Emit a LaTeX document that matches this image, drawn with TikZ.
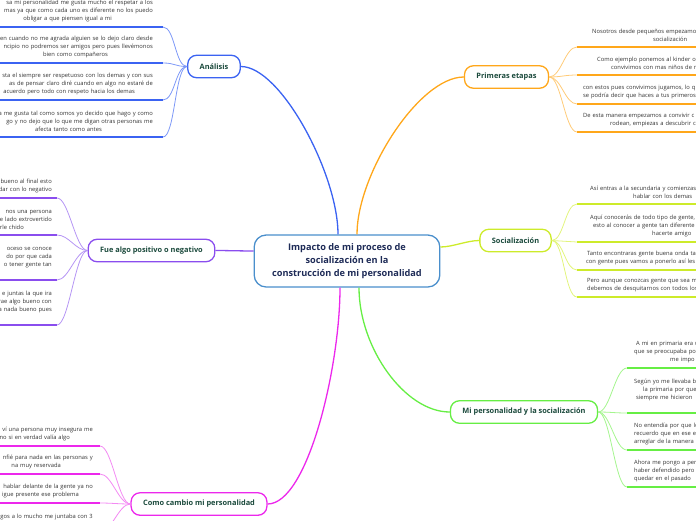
\documentclass[tikz,border=0pt]{standalone}
\usepackage{fontspec}
\setmainfont{Open Sans}
\usetikzlibrary{arrows.meta, positioning, shapes.misc, calc}
\definecolor{mapCenter}{HTML}{4A8FCC}
\definecolor{mapNavy}{HTML}{1E2B57}
\definecolor{mapText}{HTML}{1B4A3C}
\definecolor{noteText}{HTML}{333333}
\definecolor{mapBlue}{HTML}{3B63F2}
\definecolor{mapBlueL}{HTML}{7D98F7}
\definecolor{mapOrange}{HTML}{FFA71A}
\definecolor{mapOrangeL}{HTML}{FFCB78}
\definecolor{mapLime}{HTML}{CDEB2A}
\definecolor{mapLimeL}{HTML}{E2F47C}
\definecolor{mapGreen}{HTML}{66EE44}
\definecolor{mapGreenL}{HTML}{A4F58E}
\definecolor{mapPurple}{HTML}{8A4DEE}
\definecolor{mapPurpleL}{HTML}{B595F4}
\definecolor{mapPink}{HTML}{EC28EC}
\definecolor{mapPinkL}{HTML}{F38AF3}
\tikzset{
  centralBox/.style={rectangle, rounded corners=12pt, draw=mapCenter, line width=1.3pt,
                     fill=white, text=mapNavy, align=center,
                     font=\fontsize{9.2}{13}\selectfont\bfseries, inner xsep=18pt, minimum height=52pt},
  topicBox/.style={rectangle, rounded corners=9pt, draw=#1, line width=1.3pt, fill=white,
                   text=mapText, font=\fontsize{7.4}{9}\selectfont\bfseries,
                   inner xsep=12pt, minimum height=22.5pt},
  noteL/.style={anchor=south east, align=right, text width=260pt, text=noteText,
                font=\fontsize{5.8}{8.2}\selectfont, inner ysep=5pt},
  noteR/.style={anchor=south west, align=left, text width=260pt, text=noteText,
                font=\fontsize{5.8}{8.2}\selectfont, inner ysep=5pt},
  mainLink/.style={draw=#1, line width=1.3pt},
  subLink/.style={draw=#1, line width=0.8pt},
  underBar/.style={draw=#1, line width=2pt},
}

\begin{document}
\begin{tikzpicture}[x=1pt, y=-1pt]
  \useasboundingbox (0,0) rectangle (696,520);

  % centre and topics
  \node[centralBox] (cen) at (347,261) {Impacto de mi proceso de\\socialización en la\\construcción de mi personalidad};
  \node[topicBox=mapBlue] (ana) at (214,66.5) {Análisis};
  \node[topicBox=mapOrange] (pri) at (506.5,77) {Primeras etapas};
  \node[topicBox=mapLime] (soc) at (515.5,240.5) {Socialización};
  \node[topicBox=mapGreen] (mip) at (524,412) {Mi personalidad y la socialización};
  \node[topicBox=mapPurple] (fue) at (151.5,250.5) {Fue algo positivo o negativo};
  \node[topicBox=mapPink] (com) at (199,504) {Como cambio mi personalidad};

  \draw[mainLink=mapBlue] ([xshift=-9pt]cen.north) .. controls +(0,-60) and +(40,0) .. (ana.east);
  \draw[mainLink=mapOrange] ([xshift=10pt]cen.north) .. controls +(0,-60) and +(-45,0) .. (pri.west);
  \draw[mainLink=mapLime] ([yshift=14pt]cen.east) .. controls +(12,0) and +(-12,0) .. (soc.west);
  \draw[mainLink=mapGreen] ([xshift=12pt]cen.south) .. controls +(0,60) and +(-45,0) .. (mip.west);
  \draw[mainLink=mapPurple] ([yshift=10pt]cen.west) .. controls +(-10,0) and +(10,0) .. (fue.east);
  \draw[mainLink=mapPink] ([xshift=-7pt]cen.south) .. controls +(0,80) and +(40,0) .. (com.east);

  % Analisis
  \node[noteL, inner xsep=10pt] (a1) at (163,27) {sa mi personalidad me gusta mucho el respetar a los\hspace*{2pt}\\mas ya que como cada uno es diferente no los puedo\hspace*{8pt}\\obligar a que piensen igual a mi\hspace*{41pt}};
  \node[noteL, inner xsep=10pt] (a2) at (163,63) {en cuando no me agrada alguien se lo dejo claro desde\\ncipio no podremos ser amigos pero pues llevémonos\hspace*{7pt}\\bien como compañeros\hspace*{45pt}};
  \node[noteL, inner xsep=10pt] (a3) at (163,100) {sta el siempre ser respetuoso con los demas y con sus\\as de pensar claro diré cuando en algo no estaré de\hspace*{7pt}\\acuerdo pero todo con respeto hacia los demas\hspace*{18pt}};
  \node[noteL, inner xsep=10pt] (a4) at (163,137) {a me gusta tal como somos yo decido que hago y como\\go y no dejo que lo que me digan otras personas me\hspace*{7pt}\\afecta tanto como antes\hspace*{51pt}};

  % Fue algo positivo o negativo
  \node[noteL, inner xsep=5pt] (f1) at (57,198) {bueno al final esto\hspace*{2pt}\\dar con lo negativo};
  \node[noteL, inner xsep=5pt] (f2) at (57,235) {nos una persona\hspace*{7pt}\\e lado extrovertido\\rle chido\hspace*{28pt}};
  \node[noteL, inner xsep=5pt] (f3) at (57,280) {oceso se conoce\\do por que cada\hspace*{3pt}\\o tener gente tan\hspace*{6pt}\\\mbox{}};
  \node[noteL, inner xsep=5pt] (f4) at (57,325) {e juntas la que ira\hspace*{1pt}\\rae algo bueno con\\a nada bueno pues\hspace*{1pt}\\\mbox{}};

  % Como cambio mi personalidad
  \node[noteL, inner xsep=7pt] (c1) at (100,446) {ví una persona muy insegura me\hspace*{3pt}\\no si en verdad valía algo\hspace*{23pt}};
  \node[noteL, inner xsep=7pt] (c2) at (100,474) {nfié para nada en las personas y\hspace*{4pt}\\na muy reservada\hspace*{32pt}};
  \node[noteL, inner xsep=7pt] (c3) at (100,503) {hablar delante de la gente ya no\hspace*{4pt}\\igue presente ese problema\hspace*{14pt}};
  \node[noteL, inner xsep=7pt] (c4) at (100,532) {igos a lo mucho me juntaba con 3\\\mbox{}};

  % Primeras etapas
  \node[noteR, inner xsep=6pt] (p1) at (577,47) {\hspace*{9pt}Nosotros desde pequeños empezamos\\\hspace*{70pt}socialización};
  \node[noteR, inner xsep=6pt] (p2) at (577,75) {\hspace*{14pt}Como ejemplo ponemos al kinder o\\\hspace*{28pt}convivimos con mas niños de m};
  \node[noteR, inner xsep=6pt] (p3) at (577,104) {con estos pues convivimos jugamos, lo q\\se podría decir que haces a tus primeros};
  \node[noteR, inner xsep=6pt] (p4) at (577,132) {De esta manera empezamos a convivir c\\\hspace*{27pt}rodean, empiezas a descubrir c};

  % Socializacion
  \node[noteR, inner xsep=9pt] (s1) at (577,204) {\hspace*{4pt}Así entras a la secundaria y comienzas\\\hspace*{47pt}hablar con los demas};
  \node[noteR, inner xsep=9pt] (s2) at (577,242) {\hspace*{4pt}Aquí conocerás de todo tipo de gente,\\\hspace*{7pt}esto al conocer a gente tan diferente\\\hspace*{66pt}hacerte amigo};
  \node[noteR, inner xsep=9pt] (s3) at (577,270) {\hspace*{1pt}Tanto encontraras gente buena onda ta\\con gente pues vamos a ponerlo así les};
  \node[noteR, inner xsep=9pt] (s4) at (577,297) {\hspace*{1pt}Pero aunque conozcas gente que sea m\\\hspace*{1pt}debemos de desquitarnos con todos los};

  % Mi personalidad y la socializacion
  \node[noteR, inner xsep=7pt] (m1) at (627,368) {\hspace*{2pt}A mi en primaria era u\\que se preocupaba po\\\hspace*{36pt}me impo};
  \node[noteR, inner xsep=7pt] (m2) at (627,413) {Según yo me llevaba b\\\hspace*{9pt}la primaria por que\\\hspace*{2pt}siempre me hicieron\\\mbox{}};
  \node[noteR, inner xsep=7pt] (m3) at (627,450) {No entendía por que lo\\recuerdo que en ese e\\arreglar de la manera};
  \node[noteR, inner xsep=7pt] (m4) at (627,487) {Ahora me pongo a per\\haber defendido pero\\quedar en el pasado};

  % links and underlines of the notes
  \foreach \n in {a1,a2,a3,a4} {
    \draw[subLink=mapBlueL] (ana.west) .. controls +(-12,0) and +(12,0) .. (\n.south east);
    \draw[underBar=mapBlue] (\n.south west) -- (\n.south east);
  }
  \foreach \n in {f1,f2,f3,f4} {
    \draw[subLink=mapPurpleL] (fue.west) .. controls +(-12,0) and +(12,0) .. (\n.south east);
    \draw[underBar=mapPurple] (\n.south west) -- (\n.south east);
  }
  \foreach \n in {c1,c2,c3,c4} {
    \draw[subLink=mapPinkL] (com.west) .. controls +(-12,0) and +(12,0) .. (\n.south east);
    \draw[underBar=mapPink] (\n.south west) -- (\n.south east);
  }
  \foreach \n in {p1,p2,p3,p4} {
    \draw[subLink=mapOrangeL] (pri.east) .. controls +(12,0) and +(-12,0) .. (\n.south west);
    \draw[underBar=mapOrange] (\n.south west) -- (\n.south east);
  }
  \foreach \n in {s1,s2,s3,s4} {
    \draw[subLink=mapLimeL] (soc.east) .. controls +(12,0) and +(-12,0) .. (\n.south west);
    \draw[underBar=mapLime] (\n.south west) -- (\n.south east);
  }
  \foreach \n in {m1,m2,m3,m4} {
    \draw[subLink=mapGreenL] (mip.east) .. controls +(12,0) and +(-12,0) .. (\n.south west);
    \draw[underBar=mapGreen] (\n.south west) -- (\n.south east);
  }
\end{tikzpicture}
\end{document}
